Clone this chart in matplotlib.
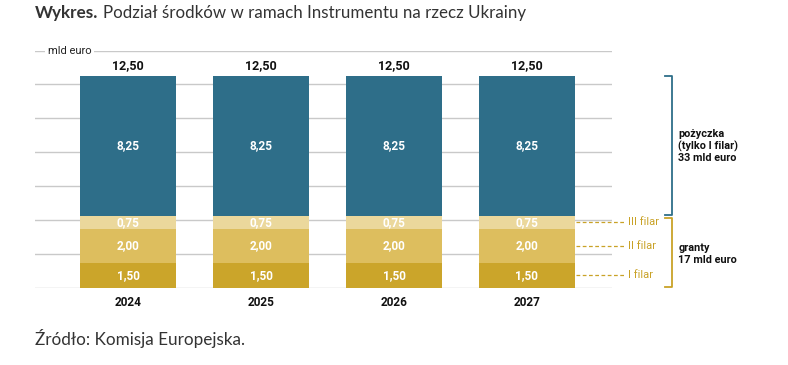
import matplotlib
matplotlib.use("Agg")
import matplotlib.pyplot as plt
import numpy as np

years = ["2024", "2025", "2026", "2027"]
filar1 = [1.50, 1.50, 1.50, 1.50]
filar2 = [2.00, 2.00, 2.00, 2.00]
filar3 = [0.75, 0.75, 0.75, 0.75]
loan = [8.25, 8.25, 8.25, 8.25]
totals = [12.50, 12.50, 12.50, 12.50]
series_names = ["I filar", "II filar", "III filar"]

c_loan = "#2E6E89"
c_f1 = "#CBA52A"
c_f2 = "#DDBE5E"
c_f3 = "#EBD89C"
gold_text = "#C9A227"

plt.rcParams["font.family"] = ["Roboto", "DejaVu Sans"]

fig = plt.figure(figsize=(7.88, 3.65), dpi=100)
W, H = 788, 365
x_left, x_right = 35, 612
y_base, y_top = 288, 50.5
ax = fig.add_axes([x_left / W, (H - y_base) / H, (x_right - x_left) / W, (y_base - y_top) / H])

x = np.arange(len(years))
ax.set_xlim(-0.70, 3.64)
ax.set_ylim(0, 14)

for yv in range(0, 15, 2):
    ax.axhline(yv, color="#C9C9C9", lw=1.0, zorder=0)

bw = 0.72
fmt = lambda v: f"{v:.2f}".replace(".", ",")
bottom = np.zeros(len(years))
for vals, col in [(filar1, c_f1), (filar2, c_f2), (filar3, c_f3), (loan, c_loan)]:
    ax.bar(x, vals, bw, bottom=bottom, color=col, zorder=2, linewidth=0)
    for xi, v, b in zip(x, vals, bottom):
        ax.text(xi, b + v / 2, fmt(v), ha="center", va="center", color="white",
                fontsize=8.5, fontweight="bold", zorder=3)
    bottom = bottom + np.array(vals)

for xi, t in zip(x, totals):
    ax.text(xi, t + 0.25, fmt(t), ha="center", va="bottom", color="#111111",
            fontsize=9, fontweight="bold")

ax.set_xticks(x)
ax.set_xticklabels(years, fontsize=8.5, fontweight="bold", color="#111111")
ax.tick_params(axis="x", length=0, pad=6)
ax.set_yticks([])
for s in ax.spines.values():
    s.set_visible(False)

# "mld euro" label on top gridline
ax.text(-0.605, 14, "mld euro", ha="left", va="center", fontsize=8, color="#222222",
        bbox=dict(facecolor="white", edgecolor="none", pad=2), zorder=4)

# dashed connectors and filar labels
mids = [filar1[0] / 2, filar1[0] + filar2[0] / 2, filar1[0] + filar2[0] + filar3[0] / 2]
for m, name in zip(mids, series_names):
    ax.plot([3.37, 3.73], [m, m], ls=(0, (3, 2)), color=gold_text, lw=0.9, clip_on=False, zorder=3)
    ax.text(3.76, m, name, ha="left", va="center", fontsize=8, color=gold_text, clip_on=False)

# brackets
bx = 4.09
grants = filar1[0] + filar2[0] + filar3[0]
top = totals[0]
ax.plot([bx - 0.05, bx, bx, bx - 0.05], [top, top, grants + 0.05, grants + 0.05],
        color=c_loan, lw=1.3, clip_on=False)
ax.plot([bx - 0.05, bx, bx, bx - 0.05], [grants - 0.1, grants - 0.1, 0.05, 0.05],
        color=gold_text, lw=1.3, clip_on=False)
ax.text(bx + 0.05, (top + grants) / 2, "pożyczka\n(tylko I filar)\n33 mld euro", ha="left",
        va="center", fontsize=7.8, fontweight="bold", color="#111111", linespacing=1.15,
        clip_on=False)
ax.text(bx + 0.05, 2.0, "granty\n17 mld euro", ha="left", va="center", fontsize=7.8,
        fontweight="bold", color="#111111", linespacing=1.15, clip_on=False)

# title and source
fig.text(35 / W, 1 - 13 / H, "Wykres.", ha="left", va="center", fontsize=12.3,
         fontweight="bold", color="#333333", family=["Lato", "DejaVu Sans"])
fig.text(103 / W, 1 - 13 / H, "Podział środków w ramach Instrumentu na rzecz Ukrainy", ha="left",
         va="center", fontsize=12.2, color="#333333", family=["Lato", "DejaVu Sans"])
fig.text(35 / W, 1 - 338 / H, "Źródło: Komisja Europejska.", ha="left", va="center",
         fontsize=12.3, color="#333333", family=["Lato", "DejaVu Sans"])

fig.savefig("out.png", dpi=100)
